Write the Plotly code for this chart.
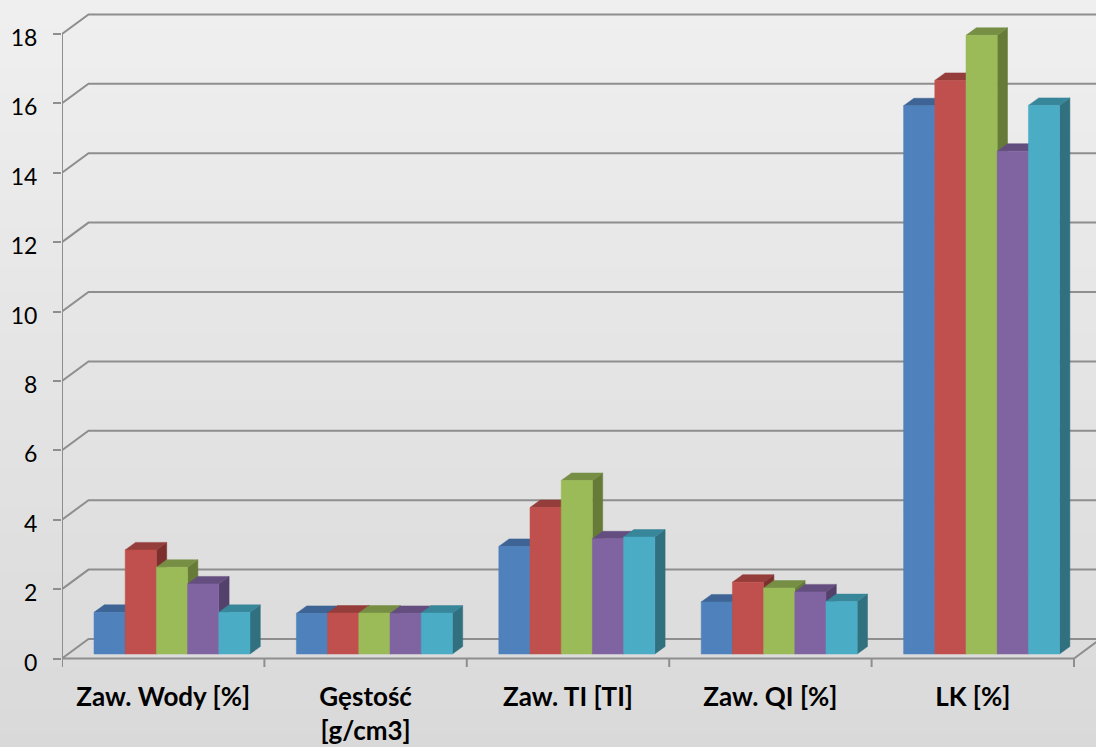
import plotly.graph_objects as go

# ---- data ----
categories = ["Zaw. Wody [%]", "Gęstość<br>[g/cm3]", "Zaw. TI [TI]", "Zaw. QI [%]", "LK [%]"]
series_1 = [1.2, 1.17, 3.1, 1.5, 15.8]
series_2 = [3.0, 1.18, 4.22, 2.07, 16.53]
series_3 = [2.5, 1.18, 5.0, 1.9, 17.83]
series_4 = [2.02, 1.17, 3.32, 1.79, 14.49]
series_5 = [1.2, 1.18, 3.37, 1.51, 15.81]
y_ticks = [0, 2, 4, 6, 8, 10, 12, 14, 16, 18]

series = [series_1, series_2, series_3, series_4, series_5]
front_cols = ["#4f81bd", "#c0504d", "#9bbb59", "#8064a2", "#4bacc6"]
top_cols = ["#3d6495", "#943d3a", "#778f45", "#634e7f", "#38869a"]
side_cols = ["#2f4e75", "#7b302e", "#677b39", "#53406b", "#30707f"]

# ---- geometry (oblique 3D projection, in data units) ----
W_PX = 202.4          # px per category
H_PX = 34.7           # px per value unit
DX = 26.5 / W_PX      # depth offset of back wall
DY = 19.5 / H_PX
ddx = 10.3 / W_PX     # bar depth
ddy = 7.5 / H_PX
yb = 4.5 / H_PX       # bar base (front face) height offset
bar_w = 31.2 / W_PX
grp_off = 32.0 / W_PX
n_cat = len(categories)
x_max = (1096 - 62) / W_PX
y_top = 658.5 / H_PX
y_bot = -8.5 / H_PX

grid_col = "#8e8e8e"
fig = go.Figure()

def line(xs, ys, w=2):
    fig.add_trace(go.Scatter(x=xs, y=ys, mode="lines", line=dict(color=grid_col, width=w),
                             hoverinfo="skip", showlegend=False))

# back-wall gridlines with left-side diagonals
for v in y_ticks:
    line([0, DX, x_max + 0.2], [v, v + DY, v + DY])
# vertical axis
line([0, 0], [y_bot, max(y_ticks)])
# floor front edge and right edge
line([0, n_cat, n_cat + DX], [0, 0, DY])
# category boundary ticks
for k in range(1, n_cat + 1):
    line([k, k], [0, y_bot])

def poly(xs, ys, col):
    fig.add_trace(go.Scatter(x=xs + [xs[0]], y=ys + [ys[0]], mode="lines", fill="toself",
                             fillcolor=col, line=dict(color=col, width=0.5),
                             hoverinfo="skip", showlegend=False))

for i in range(n_cat):
    for j, s in enumerate(series):
        v = s[i]
        x0 = i + grp_off + j * bar_w
        x1 = x0 + bar_w
        t = yb + v
        # side
        poly([x1, x1, x1 + ddx, x1 + ddx], [yb, t, t + ddy, yb + ddy], side_cols[j])
        # top
        poly([x0, x1, x1 + ddx, x0 + ddx], [t, t, t + ddy, t + ddy], top_cols[j])
        # front
        poly([x0, x1, x1, x0], [yb, yb, t, t], front_cols[j])

# background gradient
shapes = []
n_b = 80
for b in range(n_b):
    f = b / (n_b - 1)
    c = int(round(243 - (243 - 212) * f))
    shapes.append(dict(type="rect", xref="paper", yref="paper", layer="below",
                       x0=-0.1, x1=1.1, y0=1.2 - (b + 1) * 1.6 / n_b - 0.01, y1=1.2 - b * 1.6 / n_b,
                       fillcolor=f"rgb({c},{c},{c})", line=dict(width=0)))

fig.update_layout(
    width=1096, height=747,
    margin=dict(l=62, r=0, t=0, b=80),
    paper_bgcolor="#e6e6e6",
    plot_bgcolor="rgba(0,0,0,0)",
    shapes=shapes,
    showlegend=False,
    xaxis=dict(range=[0, x_max], showgrid=False, zeroline=False, showline=False,
               tickmode="array", tickvals=[i + 0.5 for i in range(n_cat)], ticktext=categories,
               ticks="", ticklabelstandoff=12,
               tickfont=dict(family="Lato", size=26, color="black", weight="bold")),
    yaxis=dict(range=[y_bot, y_top], showgrid=False, zeroline=False, showline=False,
               tickmode="array", tickvals=y_ticks, ticks="outside", ticklen=8, tickwidth=2,
               tickcolor=grid_col, ticklabelstandoff=11, ticklabelshift=4,
               tickfont=dict(family="Lato", size=23, color="black")),
)

fig.write_html("out.html")
